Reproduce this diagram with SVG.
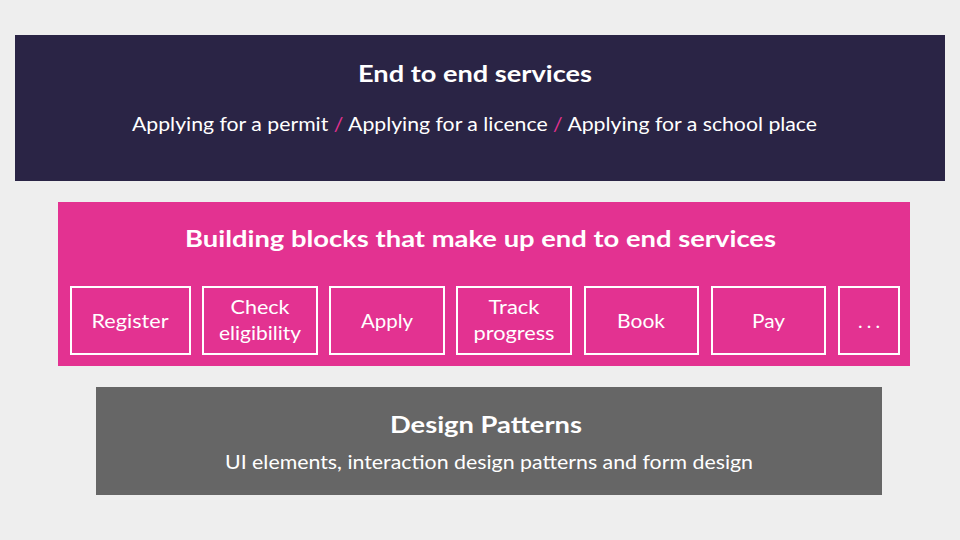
<svg xmlns="http://www.w3.org/2000/svg" width="960" height="540" viewBox="0 0 960 540">
<style>
text{font-family:"Lato","Liberation Sans",sans-serif;fill:#ffffff;text-anchor:middle}
.h{font-weight:bold;font-size:23.5px}
.s{font-size:19.5px}
.b{font-size:19.5px}
.blk{fill:none;stroke:#ffffff;stroke-width:2}
.sl{fill:#e33291}
</style>
<rect width="960" height="540" fill="#eeeeee"/>
<g id="end-to-end">
<rect x="15" y="35" width="930" height="146" fill="#2a2445"/>
<text class="h" x="475" y="82" textLength="234" lengthAdjust="spacingAndGlyphs">End to end services</text>
<text class="s" x="474.5" y="131" textLength="685" lengthAdjust="spacingAndGlyphs">Applying for a permit <tspan class="sl">/</tspan> Applying for a licence <tspan class="sl">/</tspan> Applying for a school place</text>
</g>
<g id="building-blocks">
<rect x="58" y="202" width="852" height="164" fill="#e33291"/>
<text class="h" x="480.5" y="247" textLength="591" lengthAdjust="spacingAndGlyphs">Building blocks that make up end to end services</text>
</g>
<g id="register"><rect class="blk" x="71" y="287" width="119" height="67"/><text class="b" x="130" y="328" textLength="77" lengthAdjust="spacingAndGlyphs">Register</text></g>
<g id="check-eligibility"><rect class="blk" x="203" y="287" width="114" height="67"/><text class="b" x="260" y="314" textLength="59" lengthAdjust="spacingAndGlyphs">Check</text><text class="b" x="260" y="340" textLength="82" lengthAdjust="spacingAndGlyphs">eligibility</text></g>
<g id="apply"><rect class="blk" x="330" y="287" width="114" height="67"/><text class="b" x="387" y="328" textLength="52" lengthAdjust="spacingAndGlyphs">Apply</text></g>
<g id="track-progress"><rect class="blk" x="457" y="287" width="114" height="67"/><text class="b" x="514" y="314" textLength="51" lengthAdjust="spacingAndGlyphs">Track</text><text class="b" x="514" y="340" textLength="81" lengthAdjust="spacingAndGlyphs">progress</text></g>
<g id="book"><rect class="blk" x="585" y="287" width="113" height="67"/><text class="b" x="641" y="328" textLength="48" lengthAdjust="spacingAndGlyphs">Book</text></g>
<g id="pay"><rect class="blk" x="712" y="287" width="113" height="67"/><text class="b" x="768.5" y="328" textLength="33" lengthAdjust="spacingAndGlyphs">Pay</text></g>
<g id="more"><rect class="blk" x="839" y="287" width="60" height="67"/><text class="b" x="869" y="328" textLength="22" lengthAdjust="spacing">...</text></g>
<g id="design-patterns">
<rect x="96" y="387" width="786" height="108" fill="#666666"/>
<text class="h" x="486" y="433" textLength="192" lengthAdjust="spacingAndGlyphs">Design Patterns</text>
<text class="s" x="489" y="469" textLength="528" lengthAdjust="spacingAndGlyphs">UI elements, interaction design patterns and form design</text>
</g>
<g id="connectors"/>
</svg>
